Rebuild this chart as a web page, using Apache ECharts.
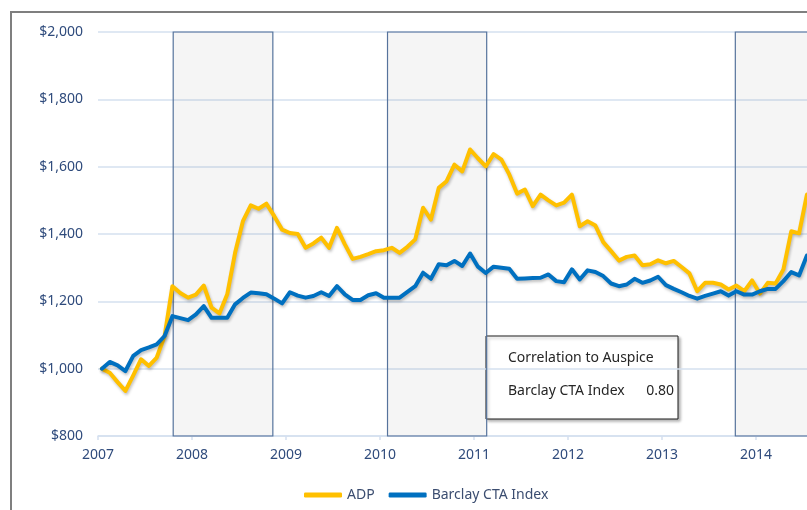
<!DOCTYPE html>
<html>
<head>
<meta charset="utf-8">
<script src="https://cdn.jsdelivr.net/npm/echarts@6/dist/echarts.min.js"></script>
<style>
  html, body { margin: 0; padding: 0; background: #fff; }
  #chart { width: 807px; height: 510px; }
</style>
</head>
<body>
<div id="chart"></div>
<script>
// monthly values, Jan 2007 .. Jul 2014
const adp = [
  1000, 988, 960, 934, 980, 1028, 1008, 1033, 1097, 1245, 1225, 1211,
  1220, 1247, 1181, 1164, 1221, 1344, 1438, 1485, 1475, 1490, 1453, 1413,
  1403, 1400, 1359, 1372, 1389, 1359, 1418, 1370, 1326, 1332, 1340, 1349,
  1352, 1359, 1344, 1362, 1384, 1478, 1443, 1537, 1557, 1606, 1586, 1651,
  1625, 1601, 1637, 1621, 1577, 1520, 1532, 1483, 1517, 1500, 1485, 1493,
  1517, 1423, 1438, 1425, 1376, 1349, 1321, 1332, 1336, 1307, 1310, 1322,
  1313, 1320, 1302, 1283, 1230, 1255, 1255, 1250, 1235, 1247, 1230, 1262,
  1223, 1255, 1253, 1295, 1408, 1402, 1517
];
const cta = [
  1000, 1020, 1010, 993, 1038, 1055, 1063, 1072, 1097, 1156, 1150, 1144,
  1161, 1186, 1151, 1151, 1151, 1191, 1210, 1226, 1224, 1221, 1208, 1194,
  1227, 1217, 1211, 1216, 1227, 1216, 1245, 1221, 1204, 1204, 1218, 1224,
  1211, 1211, 1211, 1228, 1245, 1285, 1267, 1310, 1307, 1320, 1305, 1342,
  1303, 1284, 1303, 1300, 1297, 1267, 1268, 1269, 1270, 1280, 1260, 1257,
  1295, 1265, 1292, 1287, 1275, 1253, 1245, 1250, 1267, 1255, 1262, 1273,
  1248, 1237, 1227, 1216, 1208, 1216, 1223, 1230, 1217, 1230, 1220, 1220,
  1230, 1237, 1237, 1260, 1287, 1277, 1336
];
const startYear = 2007;
// shaded periods (decimal years)
const shaded = [[2007.80, 2008.86], [2010.08, 2011.135], [2013.78, 2014.95]];
const correlation = '0.80';

// points sit mid-month
const toPoints = (vals) => vals.map((v, i) => [startYear + (i + 0.5) / 12, v]);

const chart = echarts.init(document.getElementById('chart'), null, { renderer: 'canvas' });

const lineShadow = {
  shadowColor: 'rgba(0,0,0,0.25)',
  shadowBlur: 3,
  shadowOffsetX: 1,
  shadowOffsetY: 2,
};

const boxFont = '14px "Noto Sans"';

const option = {
  animation: false,
  textStyle: { fontFamily: 'Noto Sans' },
  // plot runs past the right edge of the picture (cropped chart)
  grid: { left: 98, top: 32, width: 752, height: 404, containLabel: false, outerBoundsMode: 'none' },
  xAxis: {
    type: 'value',
    min: 2007,
    max: 2015,
    interval: 1,
    axisLine: { lineStyle: { color: '#d5e0ef', width: 1.5 } },
    axisTick: { show: true, length: 4, lineStyle: { color: '#d5e0ef', width: 1.5 } },
    axisLabel: { color: '#2f4b7c', fontSize: 14, margin: 12, formatter: (v) => String(v) },
    splitLine: { show: false },
  },
  yAxis: {
    type: 'value',
    min: 800,
    max: 2000,
    interval: 200,
    axisLine: { show: false },
    axisTick: { show: false },
    axisLabel: {
      color: '#2f4b7c', fontSize: 14, margin: 15,
      formatter: (v) => '$' + v.toLocaleString('en-US'),
    },
    splitLine: { lineStyle: { color: '#d5e0ef', width: 1.5 } },
  },
  legend: {
    data: ['ADP', 'Barclay CTA Index'],
    left: 299,
    top: 483,
    icon: 'roundRect',
    itemWidth: 38,
    itemHeight: 5,
    itemGap: 14,
    textStyle: { color: '#3b4d70', fontSize: 14, fontFamily: 'Noto Sans' },
  },
  series: [
    {
      name: 'ADP',
      type: 'line',
      data: toPoints(adp),
      showSymbol: false,
      color: '#FFC000',
      lineStyle: Object.assign({ width: 4, color: '#FFC000', cap: 'round', join: 'round' }, lineShadow),
      markArea: {
        silent: true,
        itemStyle: { color: 'rgba(0,0,0,0.04)', borderColor: '#56739c', borderWidth: 1.2 },
        data: shaded.map(([a, b]) => [{ xAxis: a, yAxis: 800 }, { xAxis: b, yAxis: 2000 }]),
      },
    },
    {
      name: 'Barclay CTA Index',
      type: 'line',
      data: toPoints(cta),
      showSymbol: false,
      color: '#0070C0',
      lineStyle: Object.assign({ width: 4, color: '#0070C0', cap: 'round', join: 'round' }, lineShadow),
    },
  ],
  graphic: [
    {
      type: 'rect',
      silent: true,
      z: 0,
      shape: { x: 11, y: 12, width: 1000, height: 700 },
      style: { fill: 'none', stroke: '#7f7f7f', lineWidth: 2 },
    },
    {
      type: 'group',
      z: 100,
      children: [
        {
          type: 'rect',
          shape: { x: 486, y: 336, width: 192, height: 83 },
          style: {
            fill: '#fff', stroke: '#1e1e1e', lineWidth: 1,
            shadowBlur: 3, shadowOffsetX: 2, shadowOffsetY: 2, shadowColor: 'rgba(0,0,0,0.3)',
          },
        },
        {
          type: 'text', x: 508, y: 358,
          style: { text: 'Correlation to Auspice', fill: '#262626', font: boxFont, verticalAlign: 'middle' },
        },
        {
          type: 'text', x: 508, y: 391,
          style: { text: 'Barclay CTA Index', fill: '#262626', font: boxFont, verticalAlign: 'middle' },
        },
        {
          type: 'text', x: 674, y: 391,
          style: { text: correlation, fill: '#262626', font: boxFont, align: 'right', verticalAlign: 'middle' },
        },
      ],
    },
  ],
};

chart.setOption(option);
</script>
</body>
</html>
